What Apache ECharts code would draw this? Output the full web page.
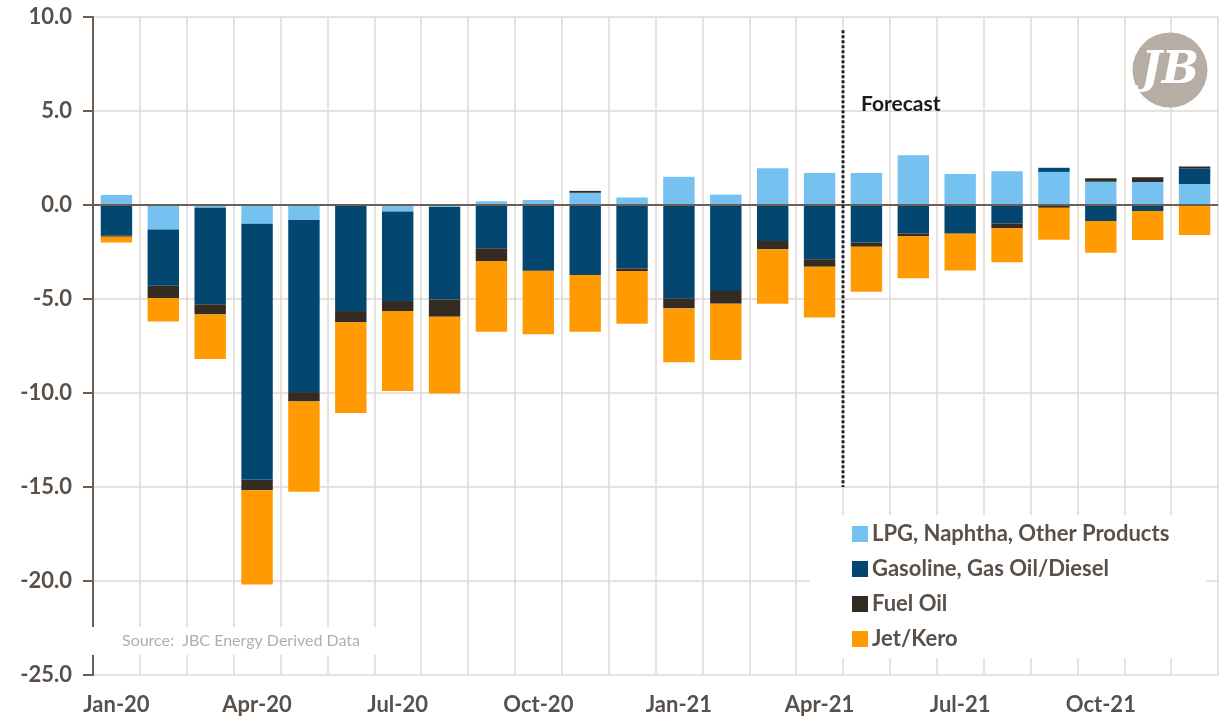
<!DOCTYPE html>
<html>
<head>
<meta charset="utf-8">
<script src="https://cdn.jsdelivr.net/npm/echarts@6/dist/echarts.min.js"></script>
<style>html,body{margin:0;padding:0;background:#fff}#c{width:1221px;height:722px}</style>
</head>
<body>
<div id="c"></div>
<script>
const months = ['Jan-20','Feb-20','Mar-20','Apr-20','May-20','Jun-20','Jul-20','Aug-20','Sep-20','Oct-20','Nov-20','Dec-20',
                'Jan-21','Feb-21','Mar-21','Apr-21','May-21','Jun-21','Jul-21','Aug-21','Sep-21','Oct-21','Nov-21','Dec-21'];
const lpg      = [0.53,-1.3,-0.15,-1.0,-0.8,0,-0.35,-0.1,0.2,0.27,0.65,0.4,1.5,0.55,1.95,1.7,1.7,2.65,1.65,1.8,1.76,1.24,1.22,1.12];
const gasoline = [-1.63,-3.0,-5.13,-13.62,-9.15,-5.64,-4.75,-4.92,-2.3,-3.49,-3.72,-3.37,-4.96,-4.57,-1.91,-2.89,-1.99,-1.51,-1.5,-0.98,0.22,-0.85,-0.32,0.83];
const fuelOil  = [-0.06,-0.65,-0.54,-0.55,-0.5,-0.6,-0.54,-0.92,-0.68,-0.02,0.1,-0.14,-0.54,-0.68,-0.45,-0.39,-0.23,-0.14,-0.03,-0.26,-0.15,0.18,0.25,0.1];
const jetKero  = [-0.3,-1.25,-2.37,-5.02,-4.8,-4.83,-4.25,-4.08,-3.76,-3.37,-3.02,-2.8,-2.87,-3.0,-2.89,-2.7,-2.39,-2.25,-1.95,-1.81,-1.7,-1.69,-1.54,-1.6];
const seriesNames = ['LPG, Naphtha, Other Products','Gasoline, Gas Oil/Diesel','Fuel Oil','Jet/Kero'];
const forecastStart = 16;   // boundary between Apr-21 and May-21 (category index)
const forecastLine = [9.3, -15];
const yTicks = {min:-25, max:10, interval:5};

const colors = ['#75C2F1','#03466F','#342B22','#FF9A00'];
const txt = '#5a504a';
const font = 'Lato';

const chart = echarts.init(document.getElementById('c'), null, {renderer:'canvas'});
const barSeries = [lpg, gasoline, fuelOil, jetKero].map((d,i)=>({
  name: seriesNames[i], type:'bar', stack:'total', data:d,
  barCategoryGap:'33%', itemStyle:{color:colors[i]}, z:3,
  markLine: i===0 ? {silent:true, symbol:'none', label:{show:false},
    lineStyle:{color:'#6b5e55', width:2, type:'solid'}, data:[{yAxis:0}]} : undefined
}));
chart.setOption({
  animation:false,
  backgroundColor:'#fff',
  textStyle:{fontFamily:font},
  grid:{left:93, right:3, top:17, bottom:47},
  legend:{
    orient:'vertical', left:810, top:515,
    padding:[8,37,8,42], backgroundColor:'#fff',
    itemWidth:16, itemHeight:16, itemGap:13,
    icon:'rect',
    textStyle:{color:txt, fontSize:22, fontWeight:'bold', fontFamily:font, lineHeight:22, padding:[0,0,0,-1]},
    data: seriesNames
  },
  xAxis:[{
    type:'category', data:months, position:'bottom',
    axisLine:{show:true, lineStyle:{color:'#ddd8d4', width:1.5}},
    axisTick:{show:false},
    splitLine:{show:true, interval:0, lineStyle:{color:'#ddd8d4', width:1.5}},
    axisLabel:{interval:2, color:txt, fontSize:22, fontWeight:'bold', fontFamily:font, margin:19}
  },{
    type:'value', min:0, max:24, show:false
  }],
  yAxis:{
    type:'value', min:yTicks.min, max:yTicks.max, interval:yTicks.interval,
    axisLine:{show:true, lineStyle:{color:'#6b5e55', width:2}},
    axisTick:{show:true, length:10, lineStyle:{color:'#6b5e55', width:2}},
    splitLine:{show:true, lineStyle:{color:'#ddd8d4', width:1.5}},
    axisLabel:{color:txt, fontSize:22, fontWeight:'bold', fontFamily:font, margin:21,
      formatter:v=>v.toFixed(1)}
  },
  series:[...barSeries, {
    type:'line', xAxisIndex:1, yAxisIndex:0, symbol:'none', silent:true, z:5,
    data:[[forecastStart, forecastLine[0]],[forecastStart, forecastLine[1]]],
    lineStyle:{color:'#222', width:3, type:[3,2]}
  }],
  graphic:[
    {type:'rect', shape:{x:86, y:627, width:326, height:28}, style:{fill:'#fff'}, z:100},
    {type:'text', x:122, y:641, z:101, style:{text:'Source:  JBC Energy Derived Data', fill:'#b8aca2', font:'16px Lato', textVerticalAlign:'middle'}},
    {type:'text', x:861, y:104, z:101, style:{text:'Forecast', fill:'#1b1b1b', font:'bold 21px Lato', textVerticalAlign:'middle'}},
    {type:'circle', shape:{cx:1170, cy:70, r:37.5}, style:{fill:'#b6ada4'}, z:100},
    {type:'text', x:1170, y:72, z:101, style:{text:'JB', fill:'#fff', font:'italic bold 44px "DejaVu Serif"', align:'center', verticalAlign:'middle'}}
  ]
});
</script>
</body>
</html>
